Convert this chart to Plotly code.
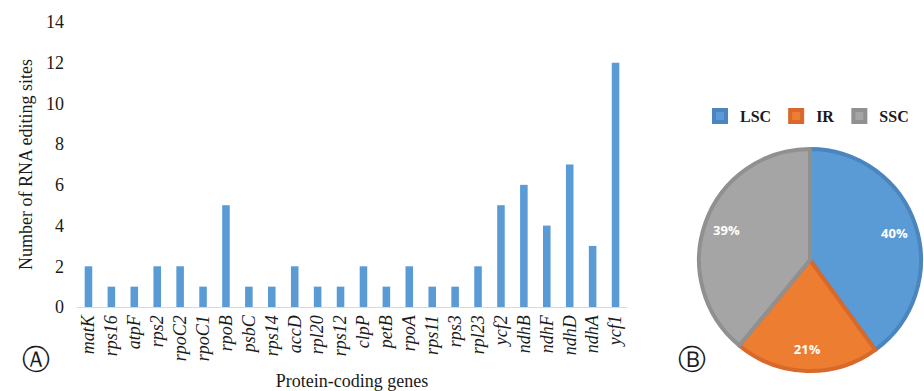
import plotly.graph_objects as go

genes = ["matK", "rps16", "atpF", "rps2", "rpoC2", "rpoC1", "rpoB", "psbC", "rps14",
         "accD", "rpl20", "rps12", "clpP", "petB", "rpoA", "rps11", "rps3", "rpl23",
         "ycf2", "ndhB", "ndhF", "ndhD", "ndhA", "ycf1"]
sites = [2, 1, 1, 2, 2, 1, 5, 1, 1, 2, 1, 1, 2, 1, 2, 1, 1, 2, 5, 6, 4, 7, 3, 12]

regions = ["LSC", "IR", "SSC"]
region_pct = [40, 21, 39]
region_colors = ["#5B9BD5", "#ED7D31", "#A5A5A5"]
region_edges = ["#4A85BE", "#D8692A", "#909090"]

W, H = 924, 391
SERIF = "Liberation Serif, Times New Roman, serif"
pie_domain = dict(x=[699 / W, 921 / W], y=[(H - 372) / H, (H - 148) / H])

fig = go.Figure()

fig.add_trace(go.Bar(
    x=genes, y=sites, marker=dict(color="#5B9BD5", line=dict(width=0)),
    width=0.33, showlegend=False, xaxis="x", yaxis="y",
))

# pie wedges (with legend)
fig.add_trace(go.Pie(
    labels=regions, values=region_pct, sort=False, direction="clockwise", rotation=0,
    marker=dict(colors=region_colors, line=dict(color=region_edges, width=4)),
    textinfo="none", domain=pie_domain, showlegend=True, hoverinfo="label+percent",
))
# transparent ring carrying the percentage labels near the rim
fig.add_trace(go.Pie(
    labels=regions, values=region_pct, sort=False, direction="clockwise", rotation=0,
    hole=0.6,
    marker=dict(colors=["rgba(0,0,0,0)"] * 3, line=dict(width=0)),
    textinfo="percent", textposition="inside", insidetextorientation="horizontal",
    textfont=dict(family="Open Sans, Arial, sans-serif", size=13, color="white", weight="bold"),
    domain=pie_domain, showlegend=False, hoverinfo="skip",
))

fig.update_layout(
    width=W, height=H,
    margin=dict(l=0, r=0, t=0, b=0),
    paper_bgcolor="white", plot_bgcolor="white",
    font=dict(family=SERIF, color="#1a1a1a", size=18),
    xaxis=dict(
        domain=[77 / W, 627 / W], anchor="y", automargin=False,
        tickangle=-90, tickfont=dict(family=SERIF, size=18, style="italic"),
        showline=True, linecolor="#d9d9d9", linewidth=1, showgrid=False,
        ticks="", zeroline=False,
        title=dict(text="Protein-coding genes", font=dict(family=SERIF, size=18), standoff=14),
    ),
    yaxis=dict(
        domain=[(H - 307) / H, (H - 22) / H], anchor="x", automargin=False,
        range=[0, 14], dtick=2, showgrid=False, zeroline=False, showline=False,
        ticks="", tickfont=dict(family=SERIF, size=18), ticklabelstandoff=12,
        title=dict(text="Number of RNA editing sites", font=dict(family=SERIF, size=18), standoff=8),
    ),
    legend=dict(
        orientation="h", x=914 / W, xanchor="right", y=(H - 116) / H, yanchor="middle",
        font=dict(family=SERIF, size=16, weight="bold", color="#1a1a1a"),
        itemwidth=30, bgcolor="rgba(0,0,0,0)",
    ),
    annotations=[
        dict(text="Ⓐ", x=20 / W, y=(H - 378) / H, xref="paper", yref="paper",
             showarrow=False, font=dict(family="DejaVu Serif", size=28, color="#1a1a1a")),
        dict(text="Ⓑ", x=708 / W, y=(H - 378) / H, xref="paper", yref="paper",
             showarrow=False, font=dict(family="DejaVu Serif", size=28, color="#1a1a1a")),
    ],
)

fig.write_html(
    "out.html",
    config={"displayModeBar": False},
    post_script="document.body.style.margin='0';document.body.style.overflow='hidden';",
)
